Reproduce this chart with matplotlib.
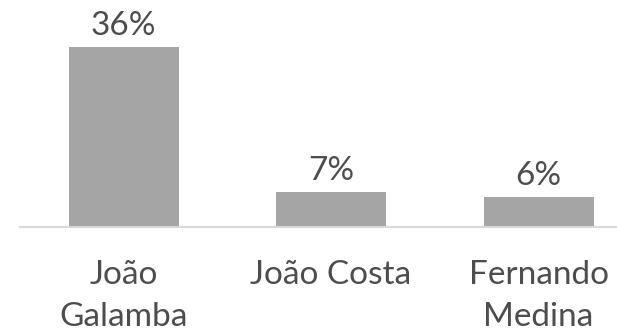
import matplotlib
matplotlib.use("Agg")
import matplotlib.pyplot as plt

# Dados
nomes = ["João\nGalamba", "João Costa", "Fernando\nMedina"]
percentagens = [36, 7, 6]

COR_BARRA = "#a5a5a5"
COR_TEXTO = "#4d4d4d"
COR_EIXO = "#d9d9d9"

plt.rcParams["font.family"] = ["Lato", "DejaVu Sans"]

fig = plt.figure(figsize=(6.17, 3.36), dpi=100)
ax = fig.add_axes([20 / 617, 109 / 336, 597 / 617, 227 / 336])

x = range(len(nomes))
barras = ax.bar(x, percentagens, width=0.53, color=COR_BARRA, zorder=2)

for b, v in zip(barras, percentagens):
    ax.annotate(f"{v}%", (b.get_x() + b.get_width() / 2, b.get_height()),
                xytext=(0, 4), textcoords="offset points",
                ha="center", va="bottom", fontsize=24, color=COR_TEXTO)

ax.set_xlim(-0.4988, 2.378)
ax.set_ylim(0, 45.4)

ax.set_xticks(list(x))
ax.set_xticklabels(nomes, fontsize=24, color=COR_TEXTO, linespacing=1.5)
ax.tick_params(axis="x", length=0, pad=24)
ax.set_yticks([])

for lado in ["top", "right", "left"]:
    ax.spines[lado].set_visible(False)
ax.spines["bottom"].set_color(COR_EIXO)
ax.spines["bottom"].set_linewidth(1.5)

fig.savefig("out.png", dpi=100, facecolor="white")
